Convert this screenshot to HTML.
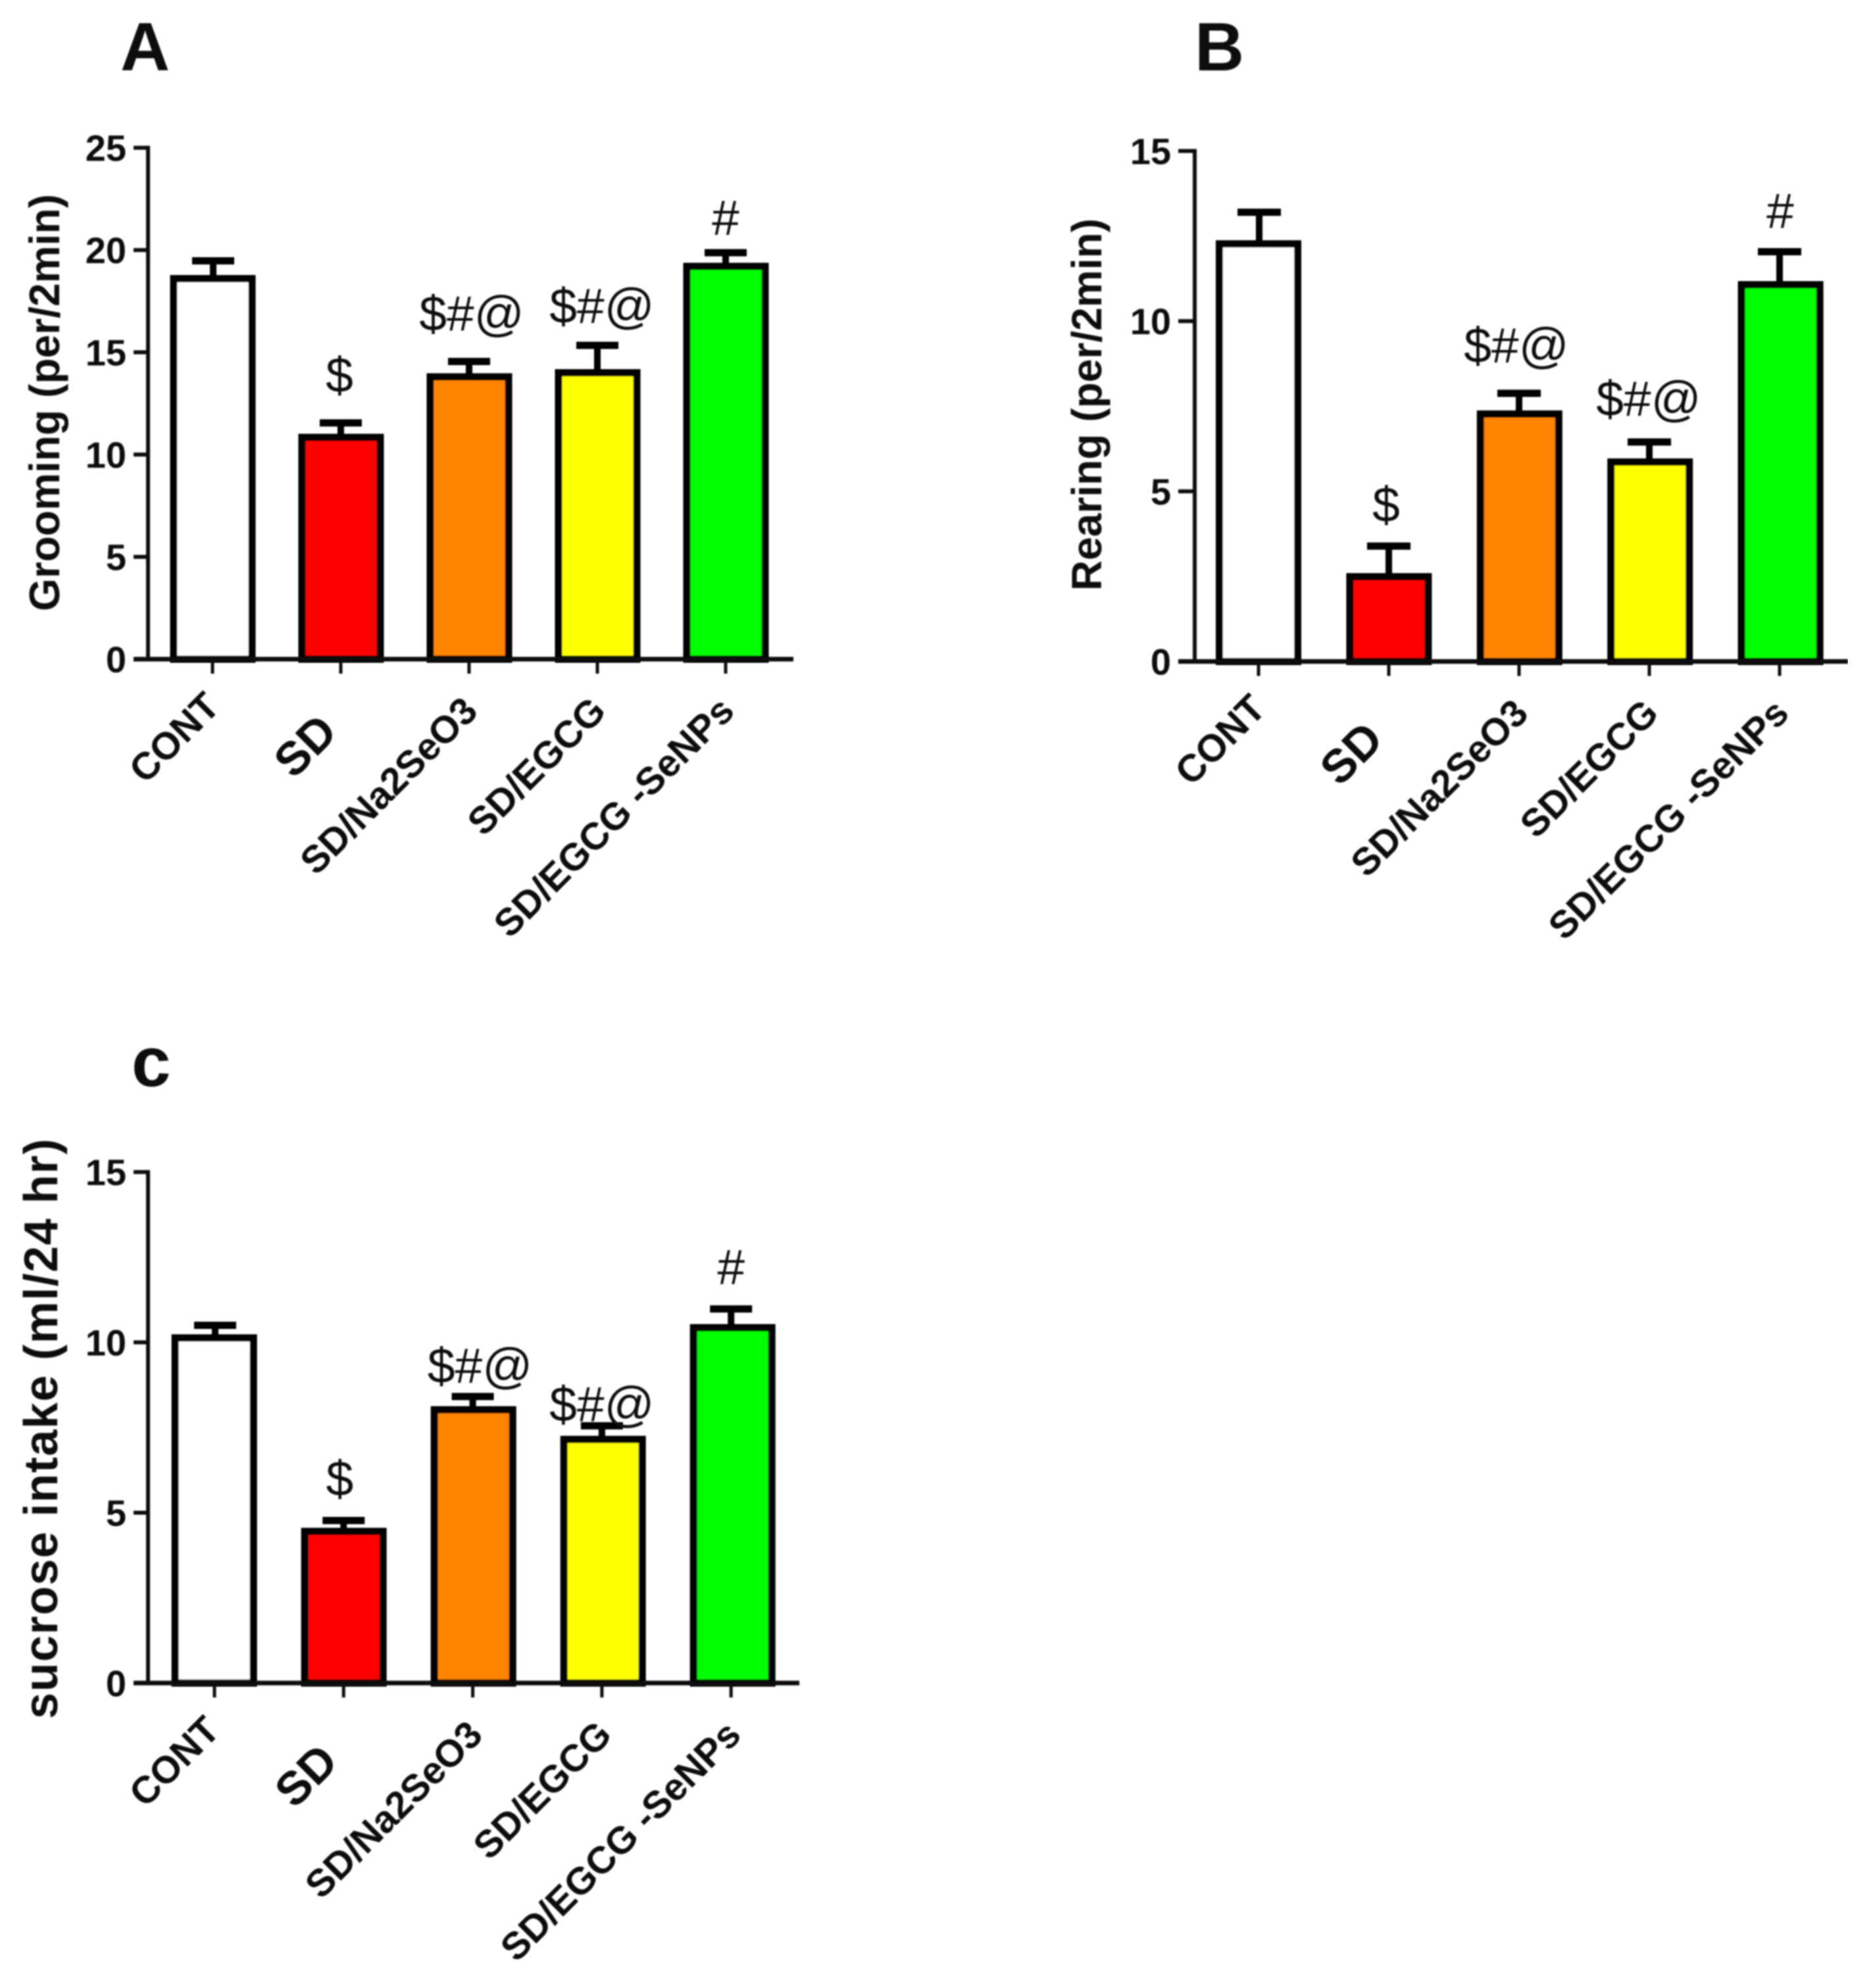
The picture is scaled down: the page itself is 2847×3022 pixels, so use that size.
<!DOCTYPE html>
<html lang="en">
<head>
<meta charset="utf-8">
<title>Behavioural measures by treatment group</title>
<style>
html,body{margin:0;padding:0;background:#fff}
svg{display:block}
text{font-family:"Liberation Sans",Arial,sans-serif;fill:#0a0a0a}
</style>
</head>
<body>
<svg id="figure" xmlns="http://www.w3.org/2000/svg" width="2847" height="3022" viewBox="0 0 2847 3022">
  <defs><filter id="soft" x="0" y="0" width="100%" height="100%"><feGaussianBlur stdDeviation="1"/></filter></defs>
  <rect width="2847" height="3022" fill="#fff"/>
  <g id="root" filter="url(#soft)">
    <text x="183" y="107" font-size="104" font-weight="bold">A</text>
    <text x="1816" y="107" font-size="104" font-weight="bold">B</text>
    <text x="200" y="1651" font-size="107" font-weight="bold">c</text>
    <text transform="translate(90,612) rotate(-90)" text-anchor="middle" font-size="65" font-weight="bold" textLength="634" lengthAdjust="spacingAndGlyphs">Grooming (per/2min)</text>
    <text transform="translate(1674,615) rotate(-90)" text-anchor="middle" font-size="64" font-weight="bold" textLength="566" lengthAdjust="spacingAndGlyphs">Rearing (per/2min)</text>
    <text transform="translate(87,2172) rotate(-90)" text-anchor="middle" font-size="72" font-weight="bold" textLength="882" lengthAdjust="spacing">sucrose intake (ml/24 hr)</text>
  </g>
</svg>
<script>
var categories = ['CONT', 'SD', 'SD/Na2SeO3', 'SD/EGCG', 'SD/EGCG -SeNPs'];
var barColors = ['#ffffff', '#ff0000', '#ff8400', '#ffff00', '#00ff00'];
var significance = ['', '$', '$#@', '$#@', '#'];

var groomingMeans = [18.6, 10.84, 13.8, 14.0, 19.2];
var groomingErrors = [0.87, 0.71, 0.75, 1.34, 0.67];
var groomingTicks = [0, 5, 10, 15, 20, 25];

var rearingMeans = [12.27, 2.49, 7.27, 5.86, 11.07];
var rearingErrors = [0.93, 0.9, 0.61, 0.59, 0.97];
var rearingTicks = [0, 5, 10, 15];

var sucroseMeans = [10.13, 4.45, 8.02, 7.15, 10.43];
var sucroseErrors = [0.37, 0.32, 0.39, 0.4, 0.55];
var sucroseTicks = [0, 5, 10, 15];

var NS = 'http://www.w3.org/2000/svg';
var root = document.getElementById('root');

function make(tag, parent, attrs) {
  var el = document.createElementNS(NS, tag);
  for (var k in attrs) { el.setAttribute(k, attrs[k]); }
  parent.appendChild(el);
  return el;
}
function slug(s) { return s.toLowerCase().replace(/[^a-z0-9]+/g, '-'); }

function drawPanel(p, means, errors, ticks) {
  var maxV = ticks[ticks.length - 1];
  function yScale(v) { return p.axisY - (v / maxV) * (p.axisY - p.topY); }
  function barX(i) { return p.barX0 + i * p.barStep; }
  function tickX(i) { return p.tickX0 + i * p.tickStep; }

  var g = make('g', root, {});
  
  

  var yAxis = make('line', g, {x1: p.axisX, x2: p.axisX, y1: yScale(maxV) - 3, y2: p.axisY, stroke: '#111', 'stroke-width': 6});
  
  

  ticks.forEach(function (t) {
    var tick = make('line', g, {x1: p.tickLeft, x2: p.axisX, y1: yScale(t), y2: yScale(t), stroke: '#111', 'stroke-width': 6});
    
    
    var lab = make('text', g, {x: p.tickLeft - 11, y: yScale(t) + 20, 'text-anchor': 'end', 'font-size': 56, 'font-weight': 'bold'});
    lab.textContent = String(t);
    
    
  });

  categories.forEach(function (c, i) {
    var key = slug(c);
    var stemX = tickX(i) + (i === 0 ? 1 : 0);
    var capY = yScale(means[i] + errors[i]);

    var stem = make('line', g, {x1: stemX, x2: stemX, y1: capY, y2: yScale(means[i]), stroke: '#000', 'stroke-width': 10});
    
    

    var cap = make('line', g, {x1: stemX - p.capW / 2, x2: stemX + p.capW / 2, y1: capY, y2: capY, stroke: '#000', 'stroke-width': 11});
    
    

    var bar = make('rect', g, {x: barX(i) - p.barW / 2, y: yScale(means[i]), width: p.barW, height: p.axisY - yScale(means[i]), fill: barColors[i], stroke: '#000', 'stroke-width': 11});
    
    

    if (significance[i]) {
      var mark = make('text', g, {x: tickX(i) + p.markDx[i], y: capY - p.markGap[i], 'text-anchor': 'middle', 'font-size': 75, fill: '#1a1a1a'});
      mark.textContent = significance[i];
      
      
    }

    var xTick = make('line', g, {x1: tickX(i), x2: tickX(i), y1: p.axisY, y2: p.axisY + 22, stroke: '#111', 'stroke-width': 5});
    
    

    var big = c === 'SD';
    var lx = tickX(i) + (big ? p.sdDx : (i === 0 ? p.contDx : p.labDx));
    var ly = p.axisY + (big ? p.sdDy : (i === 0 ? 75 : 82));
    var xLab = make('text', g, {transform: 'translate(' + lx + ',' + ly + ') rotate(-45)', 'text-anchor': 'end', 'font-size': big ? 71 : 58, 'font-weight': 'bold'});
    xLab.textContent = c;
    
    
  });

  var xAxis = make('line', g, {x1: p.tickLeft, x2: p.axisEnd, y1: p.axisY, y2: p.axisY, stroke: '#111', 'stroke-width': 7});
  
  
}

drawPanel({name: 'grooming', axisX: 225, axisY: 1002, topY: 224.6, tickLeft: 203, axisEnd: 1206,
  barX0: 323.5, barStep: 195, tickX0: 323, tickStep: 195, barW: 119, capW: 64,
  markDx: [0, -2, 4, 7, 0], markGap: [0, 47, 47, 34, 27],
  contDx: 14, labDx: 16, sdDx: -2, sdDy: 114}, groomingMeans, groomingErrors, groomingTicks);

drawPanel({name: 'rearing', axisX: 1816, axisY: 1005.5, topY: 229.5, tickLeft: 1791, axisEnd: 2809,
  barX0: 1913, barStep: 198.4, tickX0: 1913, tickStep: 198, barW: 119, capW: 66,
  markDx: [0, -4, -4, -1, 1], markGap: [0, 37, 47, 40, 36],
  contDx: 14, labDx: 17, sdDx: -5, sdDy: 122}, rearingMeans, rearingErrors, rearingTicks);

drawPanel({name: 'sucrose', axisX: 225, axisY: 2558.4, topY: 1781.6, tickLeft: 203, axisEnd: 1215,
  barX0: 325.7, barStep: 197, tickX0: 326, tickStep: 196.3, barW: 119, capW: 64,
  markDx: [0, -6, 11, 0, 0], markGap: [0, 38, 21, 7, 38],
  contDx: 11, labDx: 18, sdDx: -5, sdDy: 123}, sucroseMeans, sucroseErrors, sucroseTicks);
</script>
</body>
</html>
